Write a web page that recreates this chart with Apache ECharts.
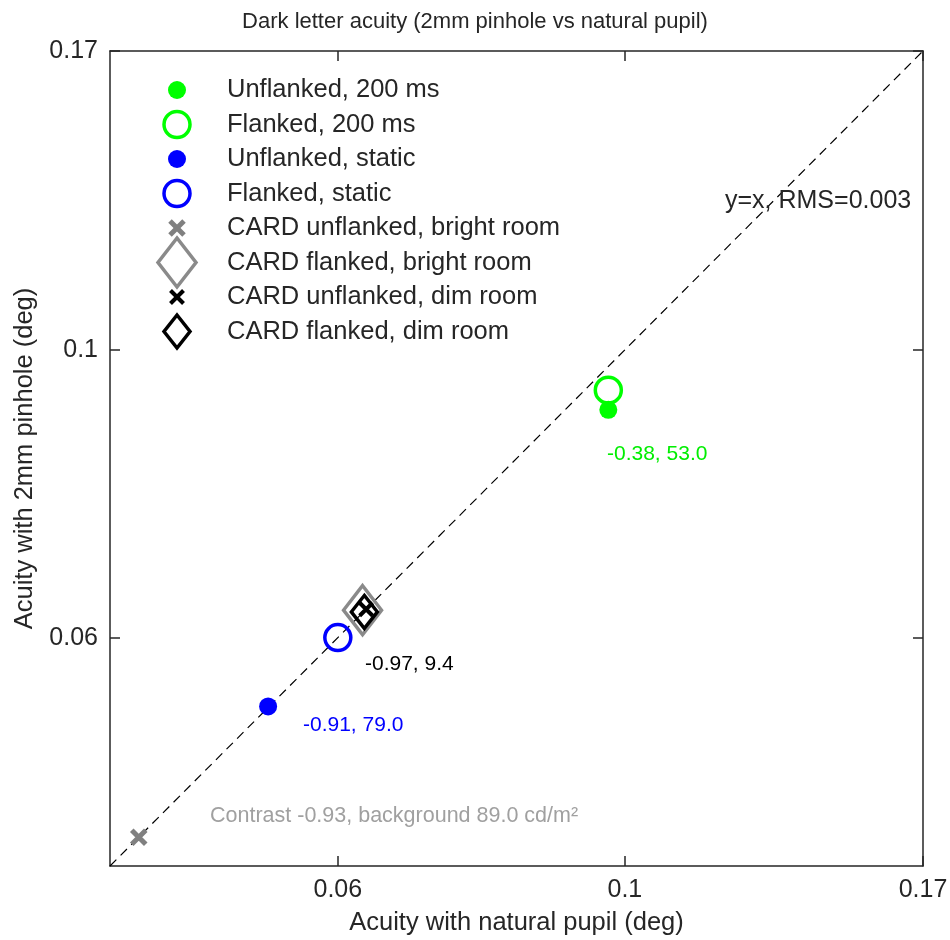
<!DOCTYPE html>
<html>
<head>
<meta charset="utf-8">
<script src="https://cdn.jsdelivr.net/npm/echarts@6/dist/echarts.min.js"></script>
<style>html,body{margin:0;padding:0;background:#fff}#chart{width:950px;height:940px}</style>
</head>
<body>
<div id="chart"></div>
<script>
// ---- data ----
const seriesNames = ['Unflanked, 200 ms', 'Flanked, 200 ms', 'Unflanked, static', 'Flanked, static',
  'CARD unflanked, bright room', 'CARD flanked, bright room', 'CARD unflanked, dim room', 'CARD flanked, dim room'];
const naturalPupil = [0.0971, 0.0971, 0.0530, 0.0600, 0.0421, 0.0627, 0.0631, 0.0629];
const pinhole2mm   = [0.0899, 0.0931, 0.0531, 0.0600, 0.0421, 0.0630, 0.0631, 0.0628];
const identityLine = [0.04, 0.17];
const axisRange = [0.04, 0.17];
const tickValues = [0.06, 0.1, 0.17];
const tickLabels = ['0.06', '0.1', '0.17'];
const titleText = 'Dark letter acuity (2mm pinhole vs natural pupil)';
const xName = 'Acuity with natural pupil (deg)';
const yName = 'Acuity with 2mm pinhole (deg)';
const annotationTexts = ['-0.38, 53.0', '-0.97, 9.4', '-0.91, 79.0', 'Contrast -0.93, background 89.0 cd/m\u00B2', 'y=x, RMS=0.003'];

// ---- styles ----
const FONT = 'Liberation Sans, Arial, sans-serif';
const AX = '#262626';
const XPATH = 'path://M0,0L10,10M10,0L0,10';
const markerStyles = [
  {kind: 'circle', size: 18, fill: '#00ff00', stroke: null, lw: 0},
  {kind: 'circle', size: 26, fill: null, stroke: '#00ff00', lw: 3.5},
  {kind: 'circle', size: 18, fill: '#0000ff', stroke: null, lw: 0},
  {kind: 'circle', size: 26, fill: null, stroke: '#0000ff', lw: 3.5},
  {kind: 'x', size: 14, fill: null, stroke: '#808080', lw: 5},
  {kind: 'diamond', size: [38, 49], fill: null, stroke: '#8a8a8a', lw: 3.5},
  {kind: 'x', size: 13, fill: null, stroke: '#000000', lw: 4},
  {kind: 'diamond', size: [26, 33], fill: null, stroke: '#000000', lw: 3.5}
];
const annotationStyles = [
  {x: 607, y: 454, size: 21, color: '#00ee00'},
  {x: 365, y: 664, size: 21, color: '#000000'},
  {x: 303, y: 725, size: 21, color: '#0000ff'},
  {x: 210, y: 816, size: 21.5, color: '#a0a0a0'},
  {x: 725, y: 201, size: 25, color: AX}
];

function fmt(v) {
  const i = tickValues.findIndex(t => Math.abs(t - v) / t < 1e-6);
  return i >= 0 ? tickLabels[i] : '';
}

function makeAxis(pos, isX, showLabel) {
  const a = {
    type: 'log', logBase: 10, min: axisRange[0], max: axisRange[1], position: pos,
    axisLine: {show: true, onZero: false, lineStyle: {color: AX, width: 1.5}},
    axisTick: {show: true, inside: true, length: 10, customValues: tickValues, lineStyle: {color: AX, width: 1.5}},
    axisLabel: {show: showLabel, customValues: tickValues, formatter: fmt, fontSize: 25, fontFamily: FONT, color: AX, margin: isX ? 12 : 12},
    splitLine: {show: false}, minorTick: {show: false}, minorSplitLine: {show: false}
  };
  if (showLabel) {
    a.name = isX ? xName : yName;
    a.nameLocation = 'middle';
    a.nameGap = isX ? 44 : 72;
    a.nameTextStyle = {fontSize: 25.5, fontFamily: FONT, color: AX};
  }
  return a;
}

const series = [{
  type: 'line', name: 'y=x', data: identityLine.map(v => [v, v]), symbol: 'none', silent: true,
  lineStyle: {color: '#000', width: 1.2, type: [9, 6]}, z: 1
}];
seriesNames.forEach((n, i) => {
  const s = markerStyles[i];
  series.push({
    type: 'scatter', name: n, data: [[naturalPupil[i], pinhole2mm[i]]], silent: true, z: 2 + i,
    symbol: s.kind === 'x' ? XPATH : s.kind,
    symbolSize: s.size,
    itemStyle: {color: s.fill || 'rgba(0,0,0,0)', borderColor: s.stroke || s.fill, borderWidth: s.lw, opacity: 1}
  });
});

// legend drawn with graphic
const legendGraphics = [];
seriesNames.forEach((n, i) => {
  const s = markerStyles[i];
  const cy = 90 + i * 34.5, cx = 177;
  if (s.kind === 'circle') {
    legendGraphics.push({type: 'circle', shape: {cx, cy, r: s.size / 2},
      style: {fill: s.fill || 'transparent', stroke: s.stroke, lineWidth: s.lw}});
  } else if (s.kind === 'x') {
    const h = s.size / 2;
    legendGraphics.push({type: 'line', shape: {x1: cx - h, y1: cy - h, x2: cx + h, y2: cy + h}, style: {stroke: s.stroke, lineWidth: s.lw}});
    legendGraphics.push({type: 'line', shape: {x1: cx + h, y1: cy - h, x2: cx - h, y2: cy + h}, style: {stroke: s.stroke, lineWidth: s.lw}});
  } else {
    const w = s.size[0] / 2, hh = s.size[1] / 2;
    legendGraphics.push({type: 'polygon', shape: {points: [[cx, cy - hh], [cx + w, cy], [cx, cy + hh], [cx - w, cy]]},
      style: {fill: 'transparent', stroke: s.stroke, lineWidth: s.lw}});
  }
  legendGraphics.push({type: 'text', x: 227, y: cy, style: {text: n, fill: AX, font: '25.5px ' + FONT, align: 'left', verticalAlign: 'middle'}});
});
annotationTexts.forEach((t, i) => {
  const a = annotationStyles[i];
  legendGraphics.push({type: 'text', x: a.x, y: a.y, z: 100,
    style: {text: t, fill: a.color, font: a.size + 'px ' + FONT, align: 'left', verticalAlign: 'middle'}});
});

const chart = echarts.init(document.getElementById('chart'), null, {renderer: 'canvas'});
chart.setOption({
  animation: false,
  backgroundColor: '#ffffff',
  title: {text: titleText, left: 'center', top: 6, textStyle: {fontSize: 22, fontWeight: 'normal', fontFamily: FONT, color: AX}},
  grid: {left: 110, right: 27, top: 51, bottom: 74, containLabel: false, outerBoundsMode: 'none'},
  xAxis: [makeAxis('bottom', true, true), makeAxis('top', true, false)],
  yAxis: [makeAxis('left', false, true), makeAxis('right', false, false)],
  series: series,
  graphic: legendGraphics
});
</script>
</body>
</html>
